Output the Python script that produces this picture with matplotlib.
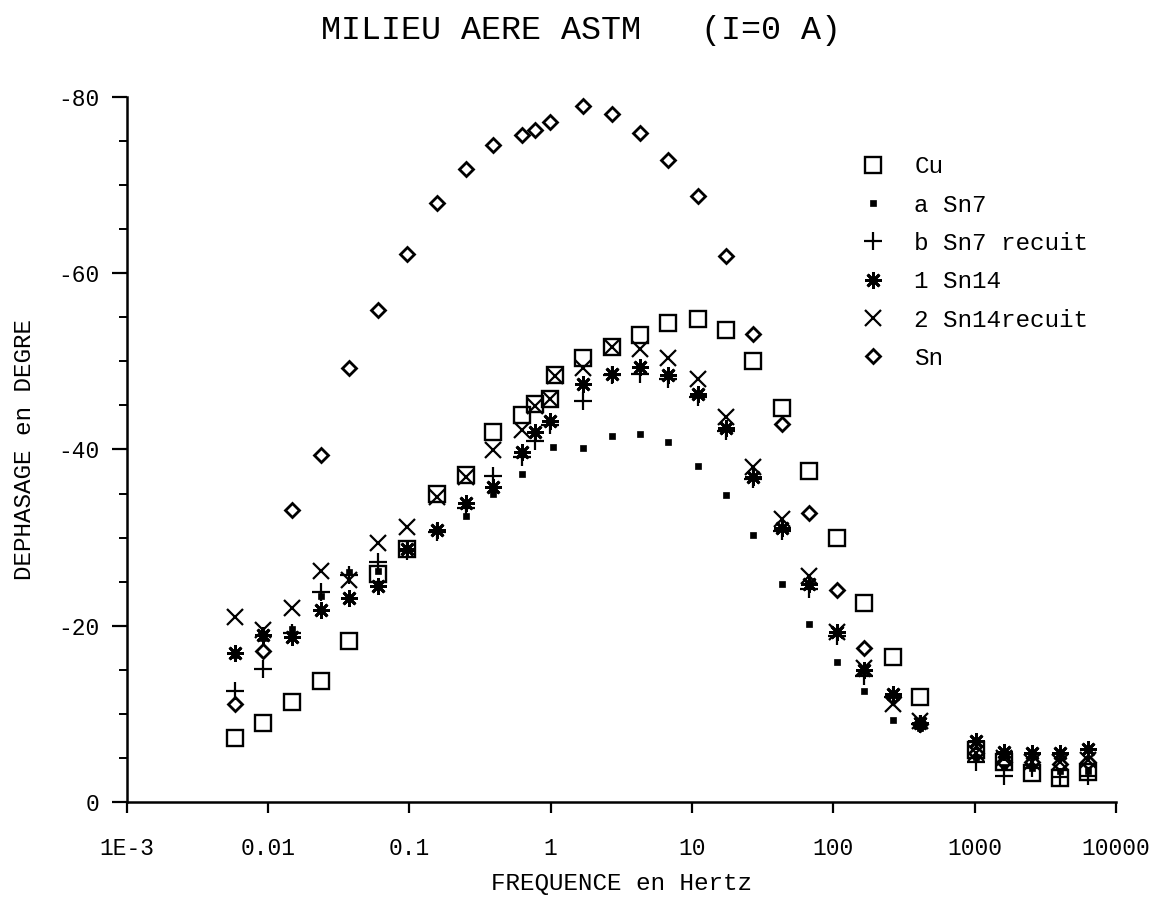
import matplotlib
matplotlib.use("Agg")
import matplotlib.pyplot as plt
from matplotlib.ticker import FixedLocator, MultipleLocator, NullLocator

# ---------------- data ----------------
freq = [0.0058, 0.0092, 0.0148, 0.0237, 0.0374, 0.060, 0.096, 0.157, 0.252, 0.392,
        0.628, 0.776, 0.991, 1.076, 1.70, 2.72, 4.30, 6.78, 11.0, 17.4, 27.0, 43.4,
        67.3, 106, 165, 264, 411, 1024, 1617, 2553, 4030, 6362]

cu = [-7.3, -9.0, -11.4, -13.7, -18.3, -25.9, -28.7, -34.9, -37.1, -42.0,
      -43.9, -45.2, -45.7, -48.5, -50.4, -51.6, -53.0, -54.4, -54.8, -53.5, -50.0, -44.7,
      -37.5, -30.0, -22.6, -16.5, -11.9, -5.9, -4.5, -3.3, -2.7, -3.4]

sn14r = [-21.0, -19.5, -22.0, -26.2, -25.2, -29.4, -31.2, -34.6, -36.9, -39.9,
         -42.2, -44.9, -45.7, -48.3, -49.3, -51.6, -51.4, -50.4, -48.0, -43.7, -38.0, -32.1,
         -25.6, -19.3, -15.2, -11.1, -9.2, -5.6, -5.0, -4.5, -4.5, -4.8]

freq_b = [0.0058, 0.0092, 0.0148, 0.0237, 0.0374, 0.060, 0.096, 0.157, 0.252, 0.392,
          0.628, 0.776, 0.991, 1.70, 2.72, 4.30, 6.78, 11.0, 17.4, 27.0, 43.4,
          67.3, 106, 165, 264, 411, 1024, 1617, 2553, 4030, 6362]

sn14 = [-16.9, -19.0, -18.7, -21.8, -23.1, -24.5, -28.7, -30.9, -33.9, -35.7,
        -39.7, -42.0, -43.2, -47.4, -48.6, -49.4, -48.4, -46.3, -42.4, -36.9, -31.1,
        -24.7, -19.3, -15.0, -12.2, -9.0, -6.9, -5.7, -5.5, -5.6, -6.0]

sn7r = [-12.6, -15.1, -19.2, -23.8, -25.7, -27.2, -28.5, -30.6, -33.4, -37.0,
        -39.2, -41.0, -42.8, -45.5, -48.4, -48.6, -48.0, -46.0, -42.1, -36.6, -30.7,
        -24.2, -18.8, -14.3, -11.9, -8.9, -4.5, -3.0, -3.8, -2.8, -2.9]

sn_d = [-11.1, -17.1, -33.1, -39.4, -49.2, -55.8, -62.2, -68.0, -71.8, -74.5,
        -75.7, -76.2, -77.2, -79.0, -78.1, -75.9, -72.8, -68.8, -62.0, -53.1, -42.9,
        -32.8, -24.0, -17.5, -11.9, -8.9, -5.5, -4.5, -4.5, -4.3, -4.5]

freq_a = [0.0058, 0.0092, 0.0148, 0.0237, 0.0374, 0.060, 0.096, 0.157, 0.252, 0.392,
          0.628, 1.03, 1.70, 2.72, 4.30, 6.78, 11.0, 17.4, 27.0, 43.4,
          67.3, 106, 165, 264, 411, 1024, 1617, 2553, 4030, 6362]

sn7 = [-16.7, -18.6, -19.6, -23.4, -26.1, -26.2, -28.8, -30.9, -32.4, -35.0,
       -37.2, -40.3, -40.2, -41.5, -41.7, -40.8, -38.1, -34.8, -30.3, -24.7,
       -20.2, -15.9, -12.6, -9.3, -8.4, -5.1, -4.0, -3.8, -3.5, -3.5]

labels = ["Cu", "a Sn7", "b Sn7 recuit", "1 Sn14", "2 Sn14recuit", "Sn"]
xticks = [1e-3, 1e-2, 1e-1, 1, 10, 100, 1000, 10000]
xticklabels = ["1E-3", "0.01", "0.1", "1", "10", "100", "1000", "10000"]
yticks = [0, -20, -40, -60, -80]
yticklabels = ["0", "-20", "-40", "-60", "-80"]

# ---------------- figure ----------------
FONT = "Liberation Mono"
plt.rcParams["font.family"] = [FONT, "DejaVu Sans Mono"]

fig = plt.figure(figsize=(11.57, 9.02), dpi=100)
ax = fig.add_axes([0.1095, 0.1109, 0.8552, 0.7816])

k = "black"
ax.plot(freq, cu, ls="none", marker="s", ms=11, mfc="none", mec=k, mew=1.7, label=labels[0])
ax.plot(freq_a, sn7, ls="none", marker="s", ms=3.8, mfc=k, mec=k, mew=0.5, label=labels[1])
ax.plot(freq_b, sn7r, ls="none", marker="+", ms=13, mec=k, mew=1.6, label=labels[2])
ax.plot(freq_b, sn14, ls="none", marker=(8, 2, 0), ms=12, mec=k, mew=2.0, label=labels[3])
ax.plot(freq, sn14r, ls="none", marker="x", ms=11, mec=k, mew=1.6, label=labels[4])
ax.plot(freq_b, sn_d, ls="none", marker="D", ms=7, mfc="none", mec=k, mew=2.0, label=labels[5])

ax.set_xscale("log")
ax.set_xlim(1e-3, 1e4)
ax.set_ylim(0, -80)

ax.xaxis.set_major_locator(FixedLocator(xticks))
ax.set_xticks(xticks, xticklabels)
ax.xaxis.set_minor_locator(NullLocator())
ax.set_yticks(yticks, yticklabels)
ax.yaxis.set_minor_locator(MultipleLocator(5))

for s in ["top", "right"]:
    ax.spines[s].set_visible(False)
for s in ["left", "bottom"]:
    ax.spines[s].set_linewidth(1.8)

ax.tick_params(axis="x", which="major", direction="out", length=8, width=1.6,
               labelsize=16.5, pad=17)
ax.tick_params(axis="y", which="major", direction="out", length=11, width=1.6,
               labelsize=16.5, pad=8.5)
ax.tick_params(axis="y", which="minor", direction="out", length=6, width=1.4)

ax.set_xlabel("FREQUENCE en Hertz", fontsize=17.5)
ax.set_ylabel("DEPHASAGE en DEGRE", fontsize=17.5)
ax.xaxis.set_label_coords(0.5, -0.10)
ax.yaxis.set_label_coords(-0.0915, 0.5)

fig.text(0.502, 0.966, "MILIEU AERE ASTM   (I=0 A)", ha="center", va="center", fontsize=24)

leg = ax.legend(loc="upper left", bbox_to_anchor=(0.7255, 0.852), bbox_transform=fig.transFigure,
                frameon=False, fontsize=17.5, handlelength=1.0, handletextpad=1.18,
                labelspacing=0.63, borderpad=0.4, numpoints=1)

fig.savefig("out.png", dpi=100)
